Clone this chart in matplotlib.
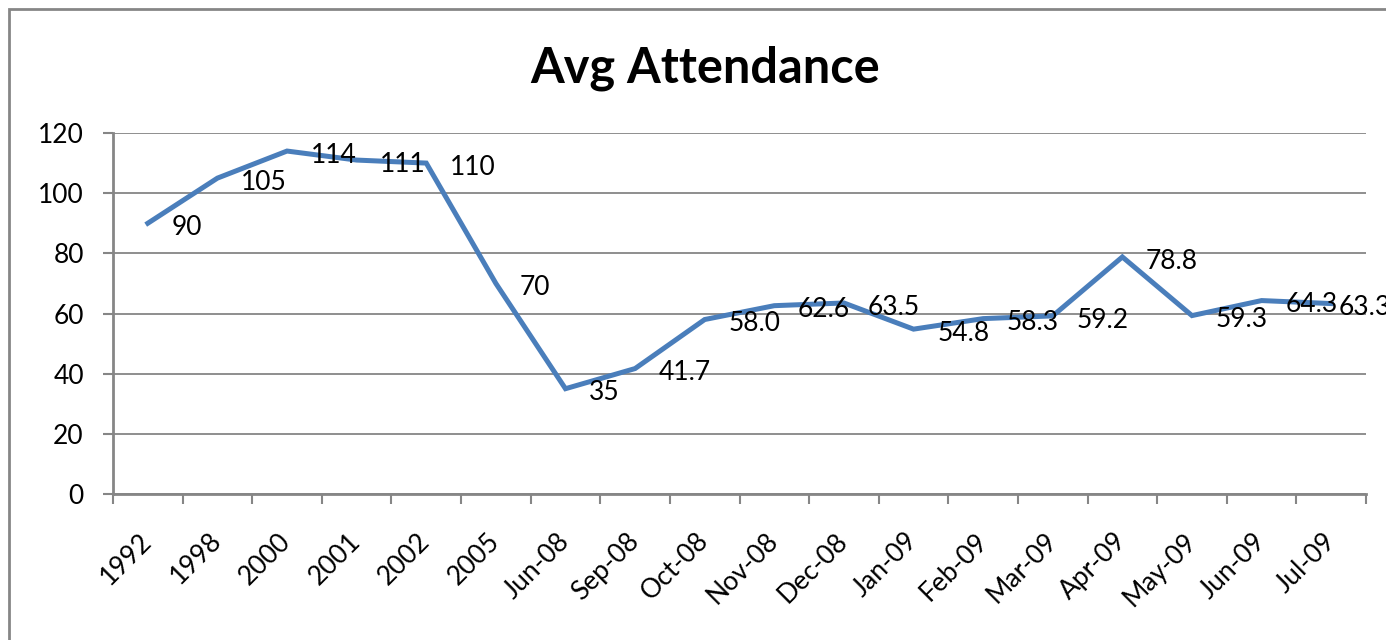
import matplotlib
matplotlib.use("Agg")
import matplotlib.pyplot as plt
from matplotlib.patches import Rectangle

# Datos del gráfico
categorias = ["1992", "1998", "2000", "2001", "2002", "2005", "Jun-08", "Sep-08",
              "Oct-08", "Nov-08", "Dec-08", "Jan-09", "Feb-09", "Mar-09", "Apr-09",
              "May-09", "Jun-09", "Jul-09"]
asistencia = [90, 105, 114, 111, 110, 70, 35, 41.7, 58.0, 62.6, 63.5, 54.8,
              58.3, 59.2, 78.8, 59.3, 64.3, 63.3]
etiquetas = ["90", "105", "114", "111", "110", "70", "35", "41.7", "58.0", "62.6",
             "63.5", "54.8", "58.3", "59.2", "78.8", "59.3", "64.3", "63.3"]
y_ticks = [0, 20, 40, 60, 80, 100, 120]

plt.rcParams['font.family'] = ['Lato', 'DejaVu Sans']
gris = "#868686"

fig = plt.figure(figsize=(13.86, 6.4), dpi=100)
ax = fig.add_axes([113 / 1386, 1 - 494 / 640, 1253 / 1386, 361 / 640])

x = list(range(len(categorias)))
ax.plot(x, asistencia, color="#4a7ebb", lw=3.6, solid_joinstyle="miter", zorder=3)

# Etiquetas de datos a la derecha de cada punto
for i, (v, t) in enumerate(zip(asistencia, etiquetas)):
    dx = 17 if i < len(asistencia) - 1 else 5
    ax.annotate(t, (i, v), xytext=(dx, -3), textcoords="offset points",
                ha="left", va="center", fontsize=19, annotation_clip=False,
                clip_on=False)

ax.set_xlim(-0.5, len(categorias) - 0.5)
ax.set_ylim(0, 120)
ax.set_yticks(y_ticks)
ax.yaxis.grid(True, color=gris, lw=1.3)
ax.set_axisbelow(True)

# Marcas entre categorías (estilo Excel)
ax.set_xticks([i - 0.5 for i in range(len(categorias) + 1)])
ax.set_xticklabels([])
ax.set_xticks(x, minor=True)
ax.set_xticklabels(categorias, minor=True, rotation=45, ha="right",
                   rotation_mode="anchor", va="center", fontsize=19)
ax.tick_params(axis="x", which="minor", length=0, pad=31)
ax.tick_params(axis="x", which="major", length=7, width=1.5, color=gris, direction="out")
ax.tick_params(axis="y", length=7, width=1.5, color=gris, labelsize=19, pad=14)

for s in ["top", "right"]:
    ax.spines[s].set_visible(False)
for s in ["left", "bottom"]:
    ax.spines[s].set_color(gris)
    ax.spines[s].set_linewidth(2)

fig.text(705 / 1386, 1 - 68 / 640, "Avg Attendance", ha="center", va="center",
         fontsize=35, fontweight="bold")

# Marco del área del gráfico
fig.patches.append(Rectangle((9 / 1386, -0.2), 1.2, 1.2 - 9 / 640, transform=fig.transFigure,
                             fill=False, edgecolor=gris, lw=2))

fig.savefig("out.png", dpi=100)
